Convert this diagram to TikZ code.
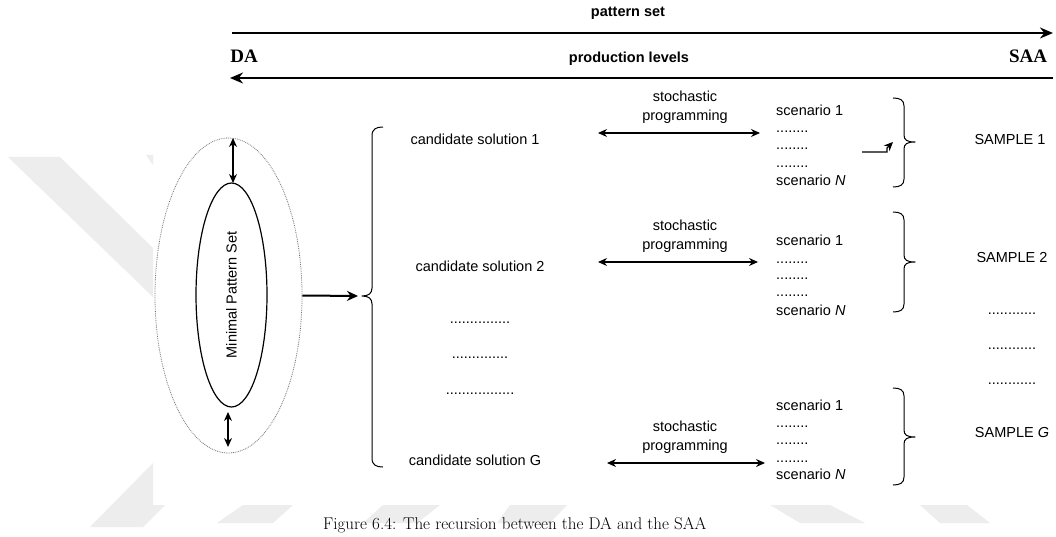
\documentclass[tikz,border=0pt]{standalone}
\usepackage{fontspec}
\newfontfamily\diagfont{Liberation Sans}
\newfontfamily\headfont{Liberation Serif}
\usetikzlibrary{arrows.meta,shapes.geometric}
\begin{document}
\begin{tikzpicture}[x=1pt,y=-1pt,
  lbl/.style={font=\diagfont\fontsize{14.5}{19}\selectfont, inner sep=0pt},
  boldlbl/.style={font=\diagfont\bfseries\fontsize{14.5}{17}\selectfont, inner sep=0pt},
  endlbl/.style={font=\headfont\bfseries\fontsize{19}{21}\selectfont, inner sep=0pt},
  wm/.style={fill=black!7},
  flow/.style={line width=2.3pt, -{Stealth[length=13pt,width=11pt]}},
  dbl/.style={line width=1.2pt, {Stealth[length=9pt,width=8pt]}-{Stealth[length=9pt,width=8pt]}},
  feed/.style={line width=2pt, -{Stealth[length=11pt,width=10pt]}},
  brace/.style={line width=1pt, line join=round}
]
\useasboundingbox (0,0) rectangle (1056,537);
\fill[white] (0,0) rectangle (1056,537);

% faint background marks
\fill[wm] (8,157) -- (60,157) -- (153,248) -- (153,297) -- cycle;
\fill[wm] (146,155) -- (153,155) -- (153,165) -- cycle;
\fill[wm] (90,527) -- (143,527) -- (165,505) -- (153,505) -- (153,463) -- cycle;
\fill[wm] (217,523) -- (243,505) -- (293,505) -- (273,523) -- cycle;
\fill[wm] (363,523) -- (383,505) -- (440,505) -- (417,523) -- cycle;
\fill[wm] (497,523) -- (510,505) -- (567,505) -- (550,523) -- cycle;
\fill[wm] (770,505) -- (830,505) -- (865,523) -- (800,523) -- cycle;
\fill[wm] (920,505) -- (967,505) -- (990,523) -- (940,523) -- cycle;

% direction arrows at the top
\coordinate (psL) at (232,33);
\coordinate (psR) at (1053,33);
\coordinate (plR) at (1053,78);
\coordinate (plL) at (230,78);
\draw[flow] (psL) -- (psR);
\draw[flow] (plR) -- (plL);
\node[boldlbl] (pattern) at (628,13) {pattern set};
\node[boldlbl] (production) at (629,59) {production levels};
\node[endlbl] (da) at (244,56) {DA};
\node[endlbl] (saa) at (1028,56) {SAA};

% minimal pattern set
\node[draw=black!55, densely dotted, line width=0.8pt, ellipse, minimum width=147pt, minimum height=315pt, inner sep=0pt] (outer) at (228.5,295.5) {};
\node[draw, line width=1.2pt, ellipse, minimum width=71pt, minimum height=224pt, inner sep=0pt] (inner) at (231.5,295) {};
\node[lbl, rotate=90] (mps) at (231.5,295) {Minimal Pattern Set};
\coordinate (topA) at (233,138);
\coordinate (topB) at (233,183);
\coordinate (botA) at (228,412);
\coordinate (botB) at (228,447);
\draw[dbl] (topA) -- (topB);
\draw[dbl] (botA) -- (botB);

% brace of candidate solutions
\coordinate (ltip) at (362,296);
\draw[feed] (outer.east) -- (358,296);
\draw[brace] (383,127) .. controls (376,127) and (372,129) .. (372,136) -- (372,288)
  .. controls (372,293) and (369,296) .. (ltip)
  .. controls (369,296) and (372,299) .. (372,304) -- (372,458)
  .. controls (372,465) and (376,467) .. (383,467);

\node[lbl] (cs1) at (475,139) {candidate solution 1};
\node[lbl] (cs2) at (480,266) {candidate solution 2};
\node[lbl, anchor=base] (csd1) at (480,323) {...............};
\node[lbl, anchor=base] (csd2) at (480,358) {..............};
\node[lbl, anchor=base] (csd3) at (480,394) {.................};
\node[lbl] (csG) at (475,460) {candidate solution G};

% first sample
\node[lbl, align=center] (sp1) at (685,107.5) {stochastic\\programming};
\coordinate (a1L) at (598,133);
\coordinate (a1R) at (760,133);
\draw[dbl] (a1L) -- (a1R);
\node[lbl, anchor=base west] (s1a) at (776,116) {scenario 1};
\node[lbl, anchor=base west] (s1b) at (776,133) {........};
\node[lbl, anchor=base west] (s1c) at (776,150) {........};
\node[lbl, anchor=base west] (s1d) at (776,168) {........};
\node[lbl, anchor=base west] (s1e) at (776,186) {scenario \textit{N}};
\coordinate (k1) at (862,152);
\coordinate (k2) at (893,142);
\draw[line width=1.2pt, -{Stealth[length=9pt,width=8pt]}] (k1) -- (887,152) -- (887,148) -- (k2);
\draw[brace] (893,98) .. controls (900,98) and (904,100) .. (904,106) -- (904,135)
  .. controls (904,140) and (907,142) .. (915,142)
  .. controls (907,142) and (904,144) .. (904,149) -- (904,179)
  .. controls (904,185) and (900,187) .. (893,187);
\node[lbl] (sample1) at (1010,140) {SAMPLE 1};

% second sample
\node[lbl, align=center] (sp2) at (685,236) {stochastic\\programming};
\coordinate (a2L) at (598,262);
\coordinate (a2R) at (758,262);
\draw[dbl] (a2L) -- (a2R);
\node[lbl, anchor=base west] (s2a) at (776,245) {scenario 1};
\node[lbl, anchor=base west] (s2b) at (776,263) {........};
\node[lbl, anchor=base west] (s2c) at (776,279) {........};
\node[lbl, anchor=base west] (s2d) at (776,296) {........};
\node[lbl, anchor=base west] (s2e) at (776,315) {scenario \textit{N}};
\draw[brace] (893,212) .. controls (900,212) and (904,214) .. (904,220) -- (904,255)
  .. controls (904,260) and (907,262) .. (915,262)
  .. controls (907,262) and (904,264) .. (904,269) -- (904,304)
  .. controls (904,310) and (900,312) .. (893,312);
\node[lbl] (sample2) at (1012,258) {SAMPLE 2};
\node[lbl, anchor=base] (smd1) at (1012,314) {............};
\node[lbl, anchor=base] (smd2) at (1012,349) {............};
\node[lbl, anchor=base] (smd3) at (1012,384) {............};

% last sample
\node[lbl, align=center] (spG) at (685,437.5) {stochastic\\programming};
\coordinate (aGL) at (607,463);
\coordinate (aGR) at (765,463);
\draw[dbl] (aGL) -- (aGR);
\node[lbl, anchor=base west] (sGa) at (776,410) {scenario 1};
\node[lbl, anchor=base west] (sGb) at (776,427) {........};
\node[lbl, anchor=base west] (sGc) at (776,444) {........};
\node[lbl, anchor=base west] (sGd) at (776,462) {........};
\node[lbl, anchor=base west] (sGe) at (776,479) {scenario \textit{N}};
\draw[brace] (893,388) .. controls (900,388) and (904,390) .. (904,396) -- (904,430)
  .. controls (904,435) and (907,437) .. (915,437)
  .. controls (907,437) and (904,439) .. (904,444) -- (904,477)
  .. controls (904,483) and (900,485) .. (893,485);
\node[lbl] (sampleG) at (1012,433) {SAMPLE \textit{G}};

% caption
\node[font=\fontsize{17}{20}\selectfont, inner sep=0pt, anchor=base west] (caption) at (323,529)
  {Figure 6.4: The recursion between the DA and the SAA};
\end{tikzpicture}
\end{document}
